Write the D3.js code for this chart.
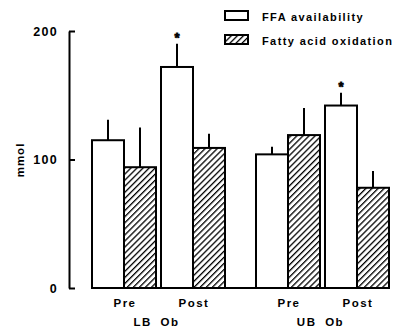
<!DOCTYPE html>
<html>
<head>
<meta charset="utf-8">
<script src="https://cdn.jsdelivr.net/npm/d3@7"></script>
<style>
  body { margin: 0; background: #fff; }
  text { font-family: "Liberation Sans", Arial, sans-serif; font-weight: bold; fill: #000; }
</style>
</head>
<body>
<script>
// values
const groups = ["LB Ob", "UB Ob"];
const conditions = ["Pre", "Post"];
const series = ["FFA availability", "Fatty acid oxidation"];
// [group][condition] -> value for each series
const ffaMean = [[115, 172], [104, 142]];
const ffaErr = [[131, 190], [110, 152]];
const faoMean = [[94, 109], [119, 78]];
const faoErr = [[125, 120], [140, 91]];
const ffaStar = [[false, true], [false, true]];
const yTicks = [0, 100, 200];

const width = 398, height = 328;
const svg = d3.select("body").append("svg")
  .attr("width", width)
  .attr("height", height);

const defs = svg.append("defs");
const pat = defs.append("pattern")
  .attr("id", "hatch")
  .attr("patternUnits", "userSpaceOnUse")
  .attr("width", 4.3)
  .attr("height", 4.3)
  .attr("patternTransform", "rotate(45)");
pat.append("rect").attr("width", 4.3).attr("height", 4.3).attr("fill", "#fff");
pat.append("line")
  .attr("x1", 0).attr("y1", 0).attr("x2", 0).attr("y2", 4.3)
  .attr("stroke", "#000").attr("stroke-width", 2.6);

const y = d3.scaleLinear().domain([0, 200]).range([288, 31]);

const xGroup = d3.scaleBand().domain(groups).range([92, 389]).paddingInner(31 / 164);
const xCond = d3.scaleBand().domain(conditions).range([0, xGroup.bandwidth()]).paddingInner(5 / 69);
const xSer = d3.scaleBand().domain(series).range([0, xCond.bandwidth()]);

// build flat records
const bars = [];
groups.forEach((g, gi) => {
  conditions.forEach((c, ci) => {
    bars.push({ g, c, s: series[0], v: ffaMean[gi][ci], e: ffaErr[gi][ci], star: ffaStar[gi][ci] });
    bars.push({ g, c, s: series[1], v: faoMean[gi][ci], e: faoErr[gi][ci], star: false });
  });
});
const bx = d => xGroup(d.g) + xCond(d.c) + xSer(d.s);

// error bars
svg.selectAll(".err")
  .data(bars)
  .join("line")
  .attr("x1", d => bx(d) + xSer.bandwidth() / 2)
  .attr("x2", d => bx(d) + xSer.bandwidth() / 2)
  .attr("y1", d => y(d.v))
  .attr("y2", d => y(d.e))
  .attr("stroke", "#000")
  .attr("stroke-width", 2);

svg.selectAll(".bar")
  .data(bars)
  .join("rect")
  .attr("x", bx)
  .attr("y", d => y(d.v))
  .attr("width", xSer.bandwidth())
  .attr("height", d => y(0) - y(d.v))
  .attr("fill", d => d.s === series[0] ? "#fff" : "url(#hatch)")
  .attr("stroke", "#000")
  .attr("stroke-width", 2);

// stars
svg.selectAll(".star")
  .data(bars.filter(d => d.star))
  .join("text")
  .attr("x", d => bx(d) + xSer.bandwidth() / 2)
  .attr("y", d => y(d.e) - 2)
  .attr("text-anchor", "middle")
  .attr("font-size", 13)
  .attr("stroke", "#000")
  .attr("stroke-width", 0.8)
  .text("*");

// baseline
svg.append("line")
  .attr("x1", xGroup.range()[0])
  .attr("x2", xGroup.range()[1])
  .attr("y1", y(0)).attr("y2", y(0))
  .attr("stroke", "#000")
  .attr("stroke-width", 2);

// y axis
const yAxis = svg.append("g")
  .attr("transform", "translate(69,0)")
  .call(d3.axisLeft(y).tickValues(yTicks).tickSizeInner(-6).tickSizeOuter(0).tickPadding(11));
yAxis.select(".domain").attr("stroke-width", 2);
yAxis.selectAll(".tick line").attr("stroke-width", 2);
yAxis.selectAll(".tick text")
  .attr("font-size", 12.5)
  .attr("font-family", "Liberation Sans, Arial, sans-serif")
  .attr("font-weight", "bold")
  .attr("letter-spacing", 1.3);

svg.append("text")
  .attr("transform", "translate(24,160) rotate(-90)")
  .attr("text-anchor", "middle")
  .attr("font-size", 11.5)
  .attr("letter-spacing", 1)
  .text("mmol");

// condition labels
groups.forEach(g => {
  conditions.forEach(c => {
    svg.append("text")
      .attr("x", xGroup(g) + xCond(c) + xCond.bandwidth() / 2 + 1)
      .attr("y", 307)
      .attr("text-anchor", "middle")
      .attr("font-size", 11.5)
      .attr("letter-spacing", 1.5)
      .text(c);
  });
  svg.append("text")
    .attr("x", xGroup(g) + xGroup.bandwidth() / 2 - 2)
    .attr("y", 326)
    .attr("text-anchor", "middle")
    .attr("font-size", 11.5)
    .attr("letter-spacing", 1.5)
    .attr("word-spacing", 4)
    .text(g);
});

// legend
const legend = svg.append("g").attr("transform", "translate(225,11)");
series.forEach((s, i) => {
  const row = legend.append("g").attr("transform", `translate(0,${i * 24})`);
  row.append("rect")
    .attr("width", 23).attr("height", 9)
    .attr("fill", i === 0 ? "#fff" : "url(#hatch)")
    .attr("stroke", "#000").attr("stroke-width", 2);
  row.append("text")
    .attr("x", 37).attr("y", 10)
    .attr("font-size", 11)
    .attr("letter-spacing", 1.4)
    .text(s);
});
</script>
</body>
</html>
